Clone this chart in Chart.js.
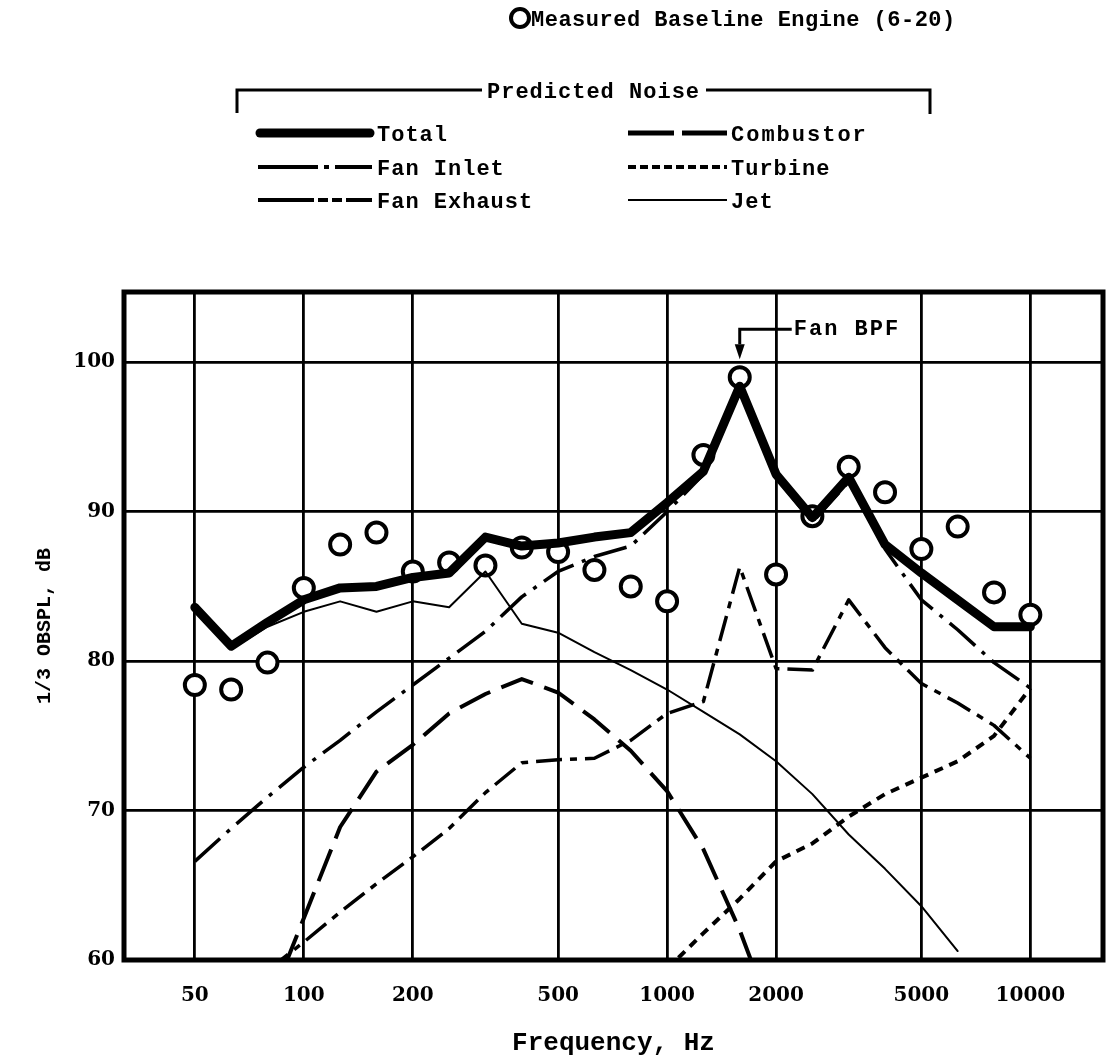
<!DOCTYPE html>
<html>
<head>
<meta charset="utf-8">
<script src="https://cdn.jsdelivr.net/npm/chart.js@4.4.1/dist/chart.umd.min.js"></script>
<style>
  html, body { margin: 0; padding: 0; background: #fff; }
  #wrap { position: relative; width: 1108px; height: 1059px; }
  #chart { position: absolute; left: 0; top: 0; }
  #legend { position: absolute; left: 0; top: 0; }
  #legend text { font-family: "Liberation Mono", monospace; font-weight: bold; font-size: 22px; letter-spacing: 1px; fill: #000; }
</style>
</head>
<body>
<div id="wrap">
  <canvas id="chart" width="1108" height="1059"></canvas>
  <svg id="legend" width="1108" height="230" xmlns="http://www.w3.org/2000/svg">
    <circle cx="520" cy="18" r="9" fill="none" stroke="#000" stroke-width="4"/>
    <text x="531" y="26" style="letter-spacing:0.5px">Measured Baseline Engine (6-20)</text>

    <path d="M237 113 L237 90 L482 90" fill="none" stroke="#000" stroke-width="3"/>
    <path d="M706 90 L930 90 L930 114" fill="none" stroke="#000" stroke-width="3"/>
    <text x="487" y="98">Predicted Noise</text>

    <line x1="260" y1="133" x2="370" y2="133" stroke="#000" stroke-width="9" stroke-linecap="round"/>
    <text x="377" y="141">Total</text>

    <line x1="628" y1="133" x2="727" y2="133" stroke="#000" stroke-width="5" stroke-dasharray="46 8"/>
    <text x="731" y="141" style="letter-spacing:2px">Combustor</text>

    <line x1="258" y1="167" x2="372" y2="167" stroke="#000" stroke-width="4" stroke-dasharray="60 6 5 6 40"/>
    <text x="377" y="175">Fan Inlet</text>

    <line x1="628" y1="167" x2="727" y2="167" stroke="#000" stroke-width="4" stroke-dasharray="8 4"/>
    <text x="731" y="175">Turbine</text>

    <line x1="258" y1="200" x2="372" y2="200" stroke="#000" stroke-width="4" stroke-dasharray="56 4 10 4 10 4 30"/>
    <text x="377" y="208">Fan Exhaust</text>

    <line x1="628" y1="200" x2="727" y2="200" stroke="#000" stroke-width="2"/>
    <text x="731" y="208">Jet</text>
  </svg>
</div>
<script>
// 1/3 octave bands
const bands = [50, 63, 80, 100, 125, 160, 200, 250, 315, 400, 500, 630, 800, 1000, 1250, 1600, 2000, 2500, 3150, 4000, 5000, 6300, 8000, 10000];
const tickFreqs = [50, 100, 200, 500, 1000, 2000, 5000, 10000];
const tickLabels = ["50", "100", "200", "500", "1000", "2000", "5000", "10000"];
const yTicks = [60, 70, 80, 90, 100];

// dB
const measured   = [78.4, 78.1, 79.9, 84.9, 87.8, 88.6, 86.0, 86.6, 86.4, 87.6, 87.3, 86.1, 85.0, 84.0, 93.8, 99.0, 85.8, 89.7, 93.0, 91.3, 87.5, 89.0, 84.6, 83.1];
const total      = [83.6, 81.0, 82.6, 84.1, 84.9, 85.0, 85.6, 85.9, 88.3, 87.7, 87.9, 88.3, 88.6, 90.6, 92.7, 98.4, 92.5, 89.6, 92.3, 87.8, 85.9, 84.1, 82.3, 82.3];
const combustor  = [null, null, 56.7, 62.8, 68.9, 72.6, 74.4, 76.5, 77.8, 78.8, 77.9, 76.1, 74.0, 71.3, 67.4, 62.0, 55.5, null, null, null, null, null, null, null];
const fanInlet   = [66.6, 68.8, 70.9, 72.9, 74.7, 76.6, 78.4, 80.2, 82.0, 84.3, 86.0, 87.0, 87.7, 90.0, 92.5, 98.2, 92.3, 89.3, 92.0, 87.5, 84.1, 82.1, 79.9, 78.2];
const turbine    = [null, null, null, null, null, null, null, null, null, null, null, null, null, 59.4, 61.8, 64.1, 66.6, 67.8, 69.6, 71.1, 72.2, 73.3, 75.0, 78.2];
const fanExhaust = [null, null, 59.3, 61.2, 63.2, 65.1, 66.9, 68.8, 71.2, 73.2, 73.4, 73.5, 74.7, 76.5, 77.3, 86.3, 79.5, 79.4, 84.1, 80.9, 78.5, 77.2, 75.7, 73.5];
const jet        = [83.4, 80.8, 82.3, 83.3, 84.0, 83.3, 84.0, 83.6, 86.0, 82.5, 81.9, 80.6, 79.4, 78.1, 76.6, 75.1, 73.3, 71.1, 68.4, 66.1, 63.6, 60.6, null, null];

const bpfFreq = 1600;
const bpfLabel = "Fan BPF";

const toXY = arr => arr.map((v, i) => ({ x: i, y: v }));

function lineSet(label, arr, width, dash) {
  return {
    type: "line",
    label: label,
    data: toXY(arr),
    borderColor: "#000",
    borderWidth: width,
    borderDash: dash,
    borderJoinStyle: "round",
    borderCapStyle: dash.length ? "butt" : "round",
    pointRadius: 0,
    fill: false,
    tension: 0,
    spanGaps: false,
    order: 1,
  };
}

// frame round the plot area
const framePlugin = {
  id: "frame",
  afterDraw(chart) {
    const { ctx, chartArea: a } = chart;
    ctx.save();
    ctx.strokeStyle = "#000";
    ctx.lineWidth = 5;
    ctx.strokeRect(a.left, a.top, a.right - a.left, a.bottom - a.top);
    ctx.restore();
  },
};

// Fan BPF arrow
const bpfPlugin = {
  id: "bpf",
  afterDatasetsDraw(chart) {
    const { ctx, scales } = chart;
    const x = scales.x.getPixelForValue(bands.indexOf(bpfFreq));
    const yTop = scales.y.getPixelForValue(102.2);
    const yHead = scales.y.getPixelForValue(101.2);
    const yTip = scales.y.getPixelForValue(100.2);
    ctx.save();
    ctx.strokeStyle = "#000";
    ctx.fillStyle = "#000";
    ctx.lineWidth = 3;
    ctx.beginPath();
    ctx.moveTo(x + 52, yTop);
    ctx.lineTo(x, yTop);
    ctx.lineTo(x, yHead);
    ctx.stroke();
    ctx.beginPath();
    ctx.moveTo(x - 5, yHead);
    ctx.lineTo(x + 5, yHead);
    ctx.lineTo(x, yTip);
    ctx.closePath();
    ctx.fill();
    ctx.font = "bold 22px 'Liberation Mono'";
    ctx.letterSpacing = "2px";
    ctx.textBaseline = "middle";
    ctx.fillText(bpfLabel, x + 54, yTop);
    ctx.restore();
  },
};

new Chart(document.getElementById("chart"), {
  type: "line",
  data: {
    datasets: [
      lineSet("Total", total, 9, []),
      lineSet("Combustor", combustor, 4, [34, 12]),
      lineSet("Fan Inlet", fanInlet, 3.5, [34, 9, 4, 9]),
      lineSet("Turbine", turbine, 4, [9, 7]),
      lineSet("Fan Exhaust", fanExhaust, 3.5, [26, 8, 7, 8]),
      lineSet("Jet", jet, 2, []),
      {
        type: "scatter",
        label: "Measured Baseline Engine (6-20)",
        data: toXY(measured),
        pointStyle: "circle",
        pointRadius: 10,
        pointBorderWidth: 4,
        pointBorderColor: "#000",
        pointBackgroundColor: "#fff",
        showLine: false,
        order: 5,
      },
    ],
  },
  options: {
    responsive: false,
    animation: false,
    events: [],
    layout: { autoPadding: false, padding: { top: 292, right: 5, left: 0, bottom: 0 } },
    plugins: {
      legend: { display: false },
      tooltip: { enabled: false },
    },
    scales: {
      x: {
        type: "linear",
        min: -1.95,
        max: 25,
        afterBuildTicks: s => { s.ticks = tickFreqs.map(f => ({ value: bands.indexOf(f) })); },
        afterFit: s => { s.height = 99; },
        ticks: {
          autoSkip: false,
          maxRotation: 0,
          padding: 24,
          color: "#000",
          font: { family: "DejaVu Serif", weight: "bold", size: 20 },
          callback: v => tickLabels[tickFreqs.indexOf(bands[v])],
        },
        grid: { color: "#000", lineWidth: 2.8, drawTicks: false },
        border: { display: false },
        title: {
          display: true,
          text: "Frequency, Hz",
          color: "#000",
          font: { family: "Liberation Mono", weight: "bold", size: 26 },
          padding: { top: 0, bottom: 0 },
        },
      },
      y: {
        min: 60,
        max: 104.7,
        afterBuildTicks: s => { s.ticks = yTicks.map(v => ({ value: v })); },
        afterFit: s => { s.width = 124; },
        ticks: {
          padding: 9,
          color: "#000",
          font: { family: "DejaVu Serif", weight: "bold", size: 20 },
        },
        grid: { color: "#000", lineWidth: 2.8, drawTicks: false },
        border: { display: false },
        title: {
          display: true,
          text: "1/3 OBSPL, dB",
          color: "#000",
          font: { family: "Liberation Mono", weight: "bold", size: 20 },
          padding: { top: 33, bottom: 0 },
        },
      },
    },
  },
  plugins: [framePlugin, bpfPlugin],
});
</script>
</body>
</html>
